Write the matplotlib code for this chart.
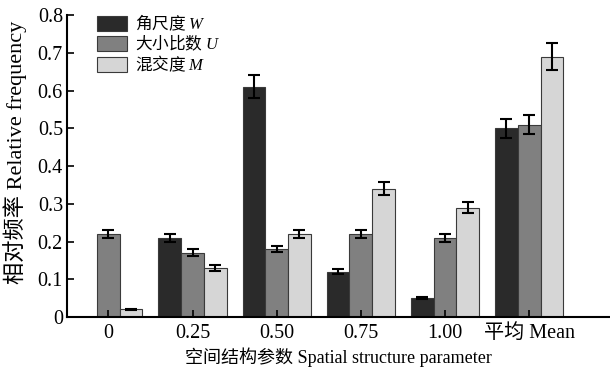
import numpy as np
import matplotlib.pyplot as plt

plt.rcParams['font.family'] = ['Liberation Serif', 'Noto Sans CJK SC']
plt.rcParams['mathtext.fontset'] = 'custom'
plt.rcParams['mathtext.rm'] = 'Liberation Serif'
plt.rcParams['mathtext.it'] = 'Liberation Serif:italic'

categories = ['0', '0.25', '0.50', '0.75', '1.00', '平均 Mean']
w_vals = [np.nan, 0.21, 0.61, 0.12, 0.05, 0.50]
w_err = [np.nan, 0.010, 0.030, 0.006, 0.003, 0.025]
u_vals = [0.22, 0.17, 0.18, 0.22, 0.21, 0.51]
u_err = [0.011, 0.009, 0.009, 0.011, 0.010, 0.025]
m_vals = [0.02, 0.13, 0.22, 0.34, 0.29, 0.69]
m_err = [0.002, 0.007, 0.011, 0.017, 0.015, 0.035]

series = [
    ('角尺度 $W$', w_vals, w_err, '#2a2a2a'),
    ('大小比数 $U$', u_vals, u_err, '#808080'),
    ('混交度 $M$', m_vals, m_err, '#d6d6d6'),
]

fig = plt.figure(figsize=(6.1, 3.69), dpi=100)
ax = fig.add_axes([0.11, 0.141, 0.89, 0.818])

x = np.arange(len(categories))
width = 0.27
for i, (label, vals, errs, color) in enumerate(series):
    ax.bar(x + (i - 1) * width, vals, width, yerr=errs, label=label,
           color=color, edgecolor='#3a3a3a', linewidth=0.8,
           error_kw=dict(ecolor='black', elinewidth=1.5, capsize=4, capthick=1.5))

ax.set_xlim(-0.49, 5.96)
ax.set_ylim(0, 0.8)
ax.set_xticks(x)
ax.set_xticklabels(categories, fontsize=14.5)
ax.set_yticks(np.arange(0, 0.81, 0.1))
ax.set_yticklabels(['0'] + [f'{v:.1f}' for v in np.arange(0.1, 0.81, 0.1)], fontsize=14.5)
ax.tick_params(direction='in', length=5, width=1.2, colors='black')
ax.tick_params(axis='x', pad=5)
ax.tick_params(axis='y', pad=3)

for s in ['top', 'right']:
    ax.spines[s].set_visible(False)
for s in ['left', 'bottom']:
    ax.spines[s].set_linewidth(1.5)

ax.set_ylabel('相对频率 Relative frequency', fontsize=16)
ax.yaxis.set_label_coords(-0.074, 0.545)
ax.set_xlabel('空间结构参数 Spatial structure parameter', fontsize=13, labelpad=3)

# 图例中文字体需放在 prop 中, mathtext 的普通文字用它
ax.legend(loc='upper left', bbox_to_anchor=(0.043, 1.03), frameon=False,
          prop={'family': 'Noto Sans CJK SC', 'size': 12},
          handlelength=1.8, handleheight=1.0, labelspacing=0.0,
          handletextpad=0.5, borderaxespad=0)

fig.savefig('out.png', dpi=100)
